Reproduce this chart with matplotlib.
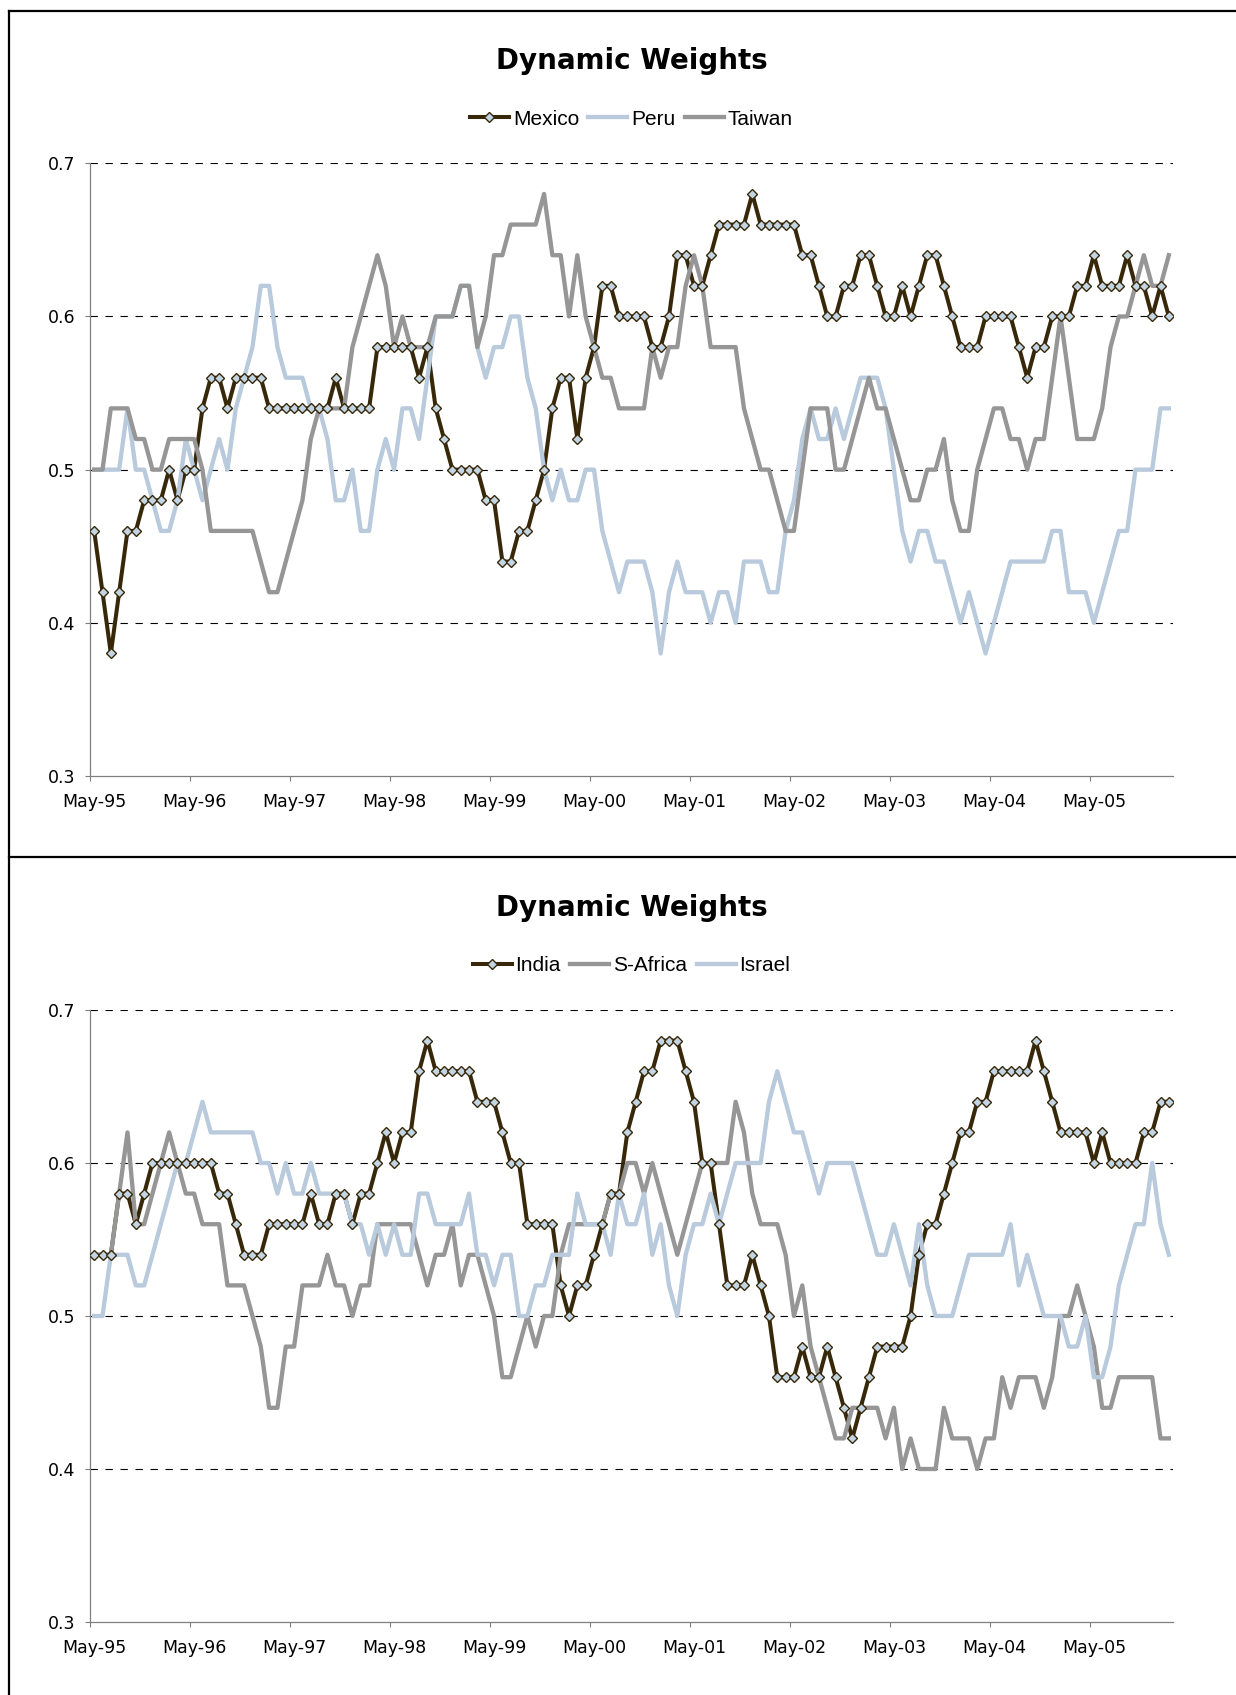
import numpy as np
import pandas as pd
import matplotlib
matplotlib.use('Agg')
import matplotlib.pyplot as plt
from matplotlib.lines import Line2D

# monthly weights, May-95 onwards
mexico = [0.46, 0.42, 0.38, 0.42, 0.46, 0.46, 0.48, 0.48, 0.48, 0.50,
          0.48, 0.50, 0.50, 0.54, 0.56, 0.56, 0.54, 0.56, 0.56, 0.56,
          0.56, 0.54, 0.54, 0.54, 0.54, 0.54, 0.54, 0.54, 0.54, 0.56,
          0.54, 0.54, 0.54, 0.54, 0.58, 0.58, 0.58, 0.58, 0.58, 0.56,
          0.58, 0.54, 0.52, 0.50, 0.50, 0.50, 0.50, 0.48, 0.48, 0.44,
          0.44, 0.46, 0.46, 0.48, 0.50, 0.54, 0.56, 0.56, 0.52, 0.56,
          0.58, 0.62, 0.62, 0.60, 0.60, 0.60, 0.60, 0.58, 0.58, 0.60,
          0.64, 0.64, 0.62, 0.62, 0.64, 0.66, 0.66, 0.66, 0.66, 0.68,
          0.66, 0.66, 0.66, 0.66, 0.66, 0.64, 0.64, 0.62, 0.60, 0.60,
          0.62, 0.62, 0.64, 0.64, 0.62, 0.60, 0.60, 0.62, 0.60, 0.62,
          0.64, 0.64, 0.62, 0.60, 0.58, 0.58, 0.58, 0.60, 0.60, 0.60,
          0.60, 0.58, 0.56, 0.58, 0.58, 0.60, 0.60, 0.60, 0.62, 0.62,
          0.64, 0.62, 0.62, 0.62, 0.64, 0.62, 0.62, 0.60, 0.62, 0.60]

peru = [0.50, 0.50, 0.50, 0.50, 0.54, 0.50, 0.50, 0.48, 0.46, 0.46,
        0.48, 0.52, 0.50, 0.48, 0.50, 0.52, 0.50, 0.54, 0.56, 0.58,
        0.62, 0.62, 0.58, 0.56, 0.56, 0.56, 0.54, 0.54, 0.52, 0.48,
        0.48, 0.50, 0.46, 0.46, 0.50, 0.52, 0.50, 0.54, 0.54, 0.52,
        0.56, 0.60, 0.60, 0.60, 0.62, 0.62, 0.58, 0.56, 0.58, 0.58,
        0.60, 0.60, 0.56, 0.54, 0.50, 0.48, 0.50, 0.48, 0.48, 0.50,
        0.50, 0.46, 0.44, 0.42, 0.44, 0.44, 0.44, 0.42, 0.38, 0.42,
        0.44, 0.42, 0.42, 0.42, 0.40, 0.42, 0.42, 0.40, 0.44, 0.44,
        0.44, 0.42, 0.42, 0.46, 0.48, 0.52, 0.54, 0.52, 0.52, 0.54,
        0.52, 0.54, 0.56, 0.56, 0.56, 0.54, 0.50, 0.46, 0.44, 0.46,
        0.46, 0.44, 0.44, 0.42, 0.40, 0.42, 0.40, 0.38, 0.40, 0.42,
        0.44, 0.44, 0.44, 0.44, 0.44, 0.46, 0.46, 0.42, 0.42, 0.42,
        0.40, 0.42, 0.44, 0.46, 0.46, 0.50, 0.50, 0.50, 0.54, 0.54]

taiwan = [0.50, 0.50, 0.54, 0.54, 0.54, 0.52, 0.52, 0.50, 0.50, 0.52,
          0.52, 0.52, 0.52, 0.50, 0.46, 0.46, 0.46, 0.46, 0.46, 0.46,
          0.44, 0.42, 0.42, 0.44, 0.46, 0.48, 0.52, 0.54, 0.54, 0.54,
          0.54, 0.58, 0.60, 0.62, 0.64, 0.62, 0.58, 0.60, 0.58, 0.58,
          0.58, 0.60, 0.60, 0.60, 0.62, 0.62, 0.58, 0.60, 0.64, 0.64,
          0.66, 0.66, 0.66, 0.66, 0.68, 0.64, 0.64, 0.60, 0.64, 0.60,
          0.58, 0.56, 0.56, 0.54, 0.54, 0.54, 0.54, 0.58, 0.56, 0.58,
          0.58, 0.62, 0.64, 0.62, 0.58, 0.58, 0.58, 0.58, 0.54, 0.52,
          0.50, 0.50, 0.48, 0.46, 0.46, 0.50, 0.54, 0.54, 0.54, 0.50,
          0.50, 0.52, 0.54, 0.56, 0.54, 0.54, 0.52, 0.50, 0.48, 0.48,
          0.50, 0.50, 0.52, 0.48, 0.46, 0.46, 0.50, 0.52, 0.54, 0.54,
          0.52, 0.52, 0.50, 0.52, 0.52, 0.56, 0.60, 0.56, 0.52, 0.52,
          0.52, 0.54, 0.58, 0.60, 0.60, 0.62, 0.64, 0.62, 0.62, 0.64]

india = [0.54, 0.54, 0.54, 0.58, 0.58, 0.56, 0.58, 0.60, 0.60, 0.60,
         0.60, 0.60, 0.60, 0.60, 0.60, 0.58, 0.58, 0.56, 0.54, 0.54,
         0.54, 0.56, 0.56, 0.56, 0.56, 0.56, 0.58, 0.56, 0.56, 0.58,
         0.58, 0.56, 0.58, 0.58, 0.60, 0.62, 0.60, 0.62, 0.62, 0.66,
         0.68, 0.66, 0.66, 0.66, 0.66, 0.66, 0.64, 0.64, 0.64, 0.62,
         0.60, 0.60, 0.56, 0.56, 0.56, 0.56, 0.52, 0.50, 0.52, 0.52,
         0.54, 0.56, 0.58, 0.58, 0.62, 0.64, 0.66, 0.66, 0.68, 0.68,
         0.68, 0.66, 0.64, 0.60, 0.60, 0.56, 0.52, 0.52, 0.52, 0.54,
         0.52, 0.50, 0.46, 0.46, 0.46, 0.48, 0.46, 0.46, 0.48, 0.46,
         0.44, 0.42, 0.44, 0.46, 0.48, 0.48, 0.48, 0.48, 0.50, 0.54,
         0.56, 0.56, 0.58, 0.60, 0.62, 0.62, 0.64, 0.64, 0.66, 0.66,
         0.66, 0.66, 0.66, 0.68, 0.66, 0.64, 0.62, 0.62, 0.62, 0.62,
         0.60, 0.62, 0.60, 0.60, 0.60, 0.60, 0.62, 0.62, 0.64, 0.64]

s_africa = [0.54, 0.54, 0.54, 0.58, 0.62, 0.56, 0.56, 0.58, 0.60, 0.62,
            0.60, 0.58, 0.58, 0.56, 0.56, 0.56, 0.52, 0.52, 0.52, 0.50,
            0.48, 0.44, 0.44, 0.48, 0.48, 0.52, 0.52, 0.52, 0.54, 0.52,
            0.52, 0.50, 0.52, 0.52, 0.56, 0.56, 0.56, 0.56, 0.56, 0.54,
            0.52, 0.54, 0.54, 0.56, 0.52, 0.54, 0.54, 0.52, 0.50, 0.46,
            0.46, 0.48, 0.50, 0.48, 0.50, 0.50, 0.54, 0.56, 0.56, 0.56,
            0.56, 0.56, 0.58, 0.58, 0.60, 0.60, 0.58, 0.60, 0.58, 0.56,
            0.54, 0.56, 0.58, 0.60, 0.60, 0.60, 0.60, 0.64, 0.62, 0.58,
            0.56, 0.56, 0.56, 0.54, 0.50, 0.52, 0.48, 0.46, 0.44, 0.42,
            0.42, 0.44, 0.44, 0.44, 0.44, 0.42, 0.44, 0.40, 0.42, 0.40,
            0.40, 0.40, 0.44, 0.42, 0.42, 0.42, 0.40, 0.42, 0.42, 0.46,
            0.44, 0.46, 0.46, 0.46, 0.44, 0.46, 0.50, 0.50, 0.52, 0.50,
            0.48, 0.44, 0.44, 0.46, 0.46, 0.46, 0.46, 0.46, 0.42, 0.42]

israel = [0.50, 0.50, 0.54, 0.54, 0.54, 0.52, 0.52, 0.54, 0.56, 0.58,
          0.60, 0.60, 0.62, 0.64, 0.62, 0.62, 0.62, 0.62, 0.62, 0.62,
          0.60, 0.60, 0.58, 0.60, 0.58, 0.58, 0.60, 0.58, 0.58, 0.58,
          0.58, 0.56, 0.56, 0.54, 0.56, 0.54, 0.56, 0.54, 0.54, 0.58,
          0.58, 0.56, 0.56, 0.56, 0.56, 0.58, 0.54, 0.54, 0.52, 0.54,
          0.54, 0.50, 0.50, 0.52, 0.52, 0.54, 0.54, 0.54, 0.58, 0.56,
          0.56, 0.56, 0.54, 0.58, 0.56, 0.56, 0.58, 0.54, 0.56, 0.52,
          0.50, 0.54, 0.56, 0.56, 0.58, 0.56, 0.58, 0.60, 0.60, 0.60,
          0.60, 0.64, 0.66, 0.64, 0.62, 0.62, 0.60, 0.58, 0.60, 0.60,
          0.60, 0.60, 0.58, 0.56, 0.54, 0.54, 0.56, 0.54, 0.52, 0.56,
          0.52, 0.50, 0.50, 0.50, 0.52, 0.54, 0.54, 0.54, 0.54, 0.54,
          0.56, 0.52, 0.54, 0.52, 0.50, 0.50, 0.50, 0.48, 0.48, 0.50,
          0.46, 0.46, 0.48, 0.52, 0.54, 0.56, 0.56, 0.60, 0.56, 0.54]

months = pd.date_range('1995-05-01', periods=len(mexico), freq='MS')

BROWN = '#38280A'
BLUE = '#B8CADB'
GREY = '#969696'
MARKER_FACE = '#C3D4E3'
AXIS_GREY = '#7F7F7F'

plt.rcParams['lines.scale_dashes'] = False

fig = plt.figure(figsize=(12.36, 16.95), dpi=100)


def draw_panel(ax, main_name, main_values, others):
    x = np.arange(len(months))

    # excel draws every series line first, then the markers on top
    ax.plot(x, main_values, color=BROWN, lw=2.9, zorder=3)
    for name, values, colour in others:
        ax.plot(x, values, color=colour, lw=3.1, zorder=3)
    ax.plot(x, main_values, ls='none', marker='D', ms=4.8, mfc=MARKER_FACE,
            mec=BROWN, mew=1.0, zorder=4)

    ax.set_xlim(-0.5, len(months) - 0.5)
    ax.set_ylim(0.3, 0.7)
    ax.set_yticks([0.3, 0.4, 0.5, 0.6, 0.7])
    ax.set_yticklabels(['0.3', '0.4', '0.5', '0.6', '0.7'])

    # tick marks sit between the categories, labels on each May
    ax.set_xticks(np.arange(-0.5, len(months), 12))
    ax.set_xticklabels([])
    may = np.where(months.month == 5)[0]
    ax.set_xticks(may, months[may].strftime('%b-%y'), minor=True)
    ax.tick_params(axis='x', which='major', direction='out', length=3.6,
                   color=AXIS_GREY, width=0.8)
    ax.tick_params(axis='x', which='minor', length=0, pad=12, labelsize=12.5)
    ax.tick_params(axis='y', direction='out', length=3.6, color=AXIS_GREY,
                   width=0.8, pad=7, labelsize=12.5)

    for lvl in [0.4, 0.5, 0.6, 0.7]:
        ax.axhline(lvl, color='black', lw=0.8, dashes=(5.3, 5.5), zorder=1)

    for side in ['top', 'right']:
        ax.spines[side].set_visible(False)
    for side in ['left', 'bottom']:
        ax.spines[side].set_color(AXIS_GREY)
        ax.spines[side].set_linewidth(0.9)

    ax.text(0.5, 1.1534, 'Dynamic Weights', transform=ax.transAxes,
            ha='center', va='baseline', fontsize=20, fontweight='bold',
            family='DejaVu Sans')

    handles = [Line2D([], [], color=BROWN, lw=2.9, marker='D', ms=4.8,
                      mfc=MARKER_FACE, mec=BROWN, mew=1.0)]
    labels = [main_name]
    for name, values, colour in others:
        handles.append(Line2D([], [], color=colour, lw=3.1))
        labels.append(name)
    ax.legend(handles, labels, loc='center', bbox_to_anchor=(0.5, 1.072),
              ncol=3, frameon=False, handlelength=1.87, handletextpad=0.19,
              columnspacing=0.45, borderpad=0,
              prop={'family': 'Liberation Sans', 'size': 15})


ax_top = fig.add_axes([0.07282, 0.54218, 0.87621, 0.36148])
draw_panel(ax_top, 'Mexico', mexico, [('Peru', peru, BLUE), ('Taiwan', taiwan, GREY)])

ax_bot = fig.add_axes([0.07282, 0.04307, 0.87621, 0.36106])
draw_panel(ax_bot, 'India', india, [('S-Africa', s_africa, GREY), ('Israel', israel, BLUE)])

# chart borders (the right and bottom edges fall outside the picture)
x_left = 9 / 1236
y_top = 1 - 11 / 1695
y_mid = 1 - 857 / 1695
for xs, ys in [([x_left, 1.0], [y_top, y_top]),
               ([x_left, 1.0], [y_mid, y_mid]),
               ([x_left, x_left], [0.0, y_top])]:
    fig.add_artist(Line2D(xs, ys, color='black', lw=1.6, transform=fig.transFigure))

fig.savefig('out.png', dpi=100)
